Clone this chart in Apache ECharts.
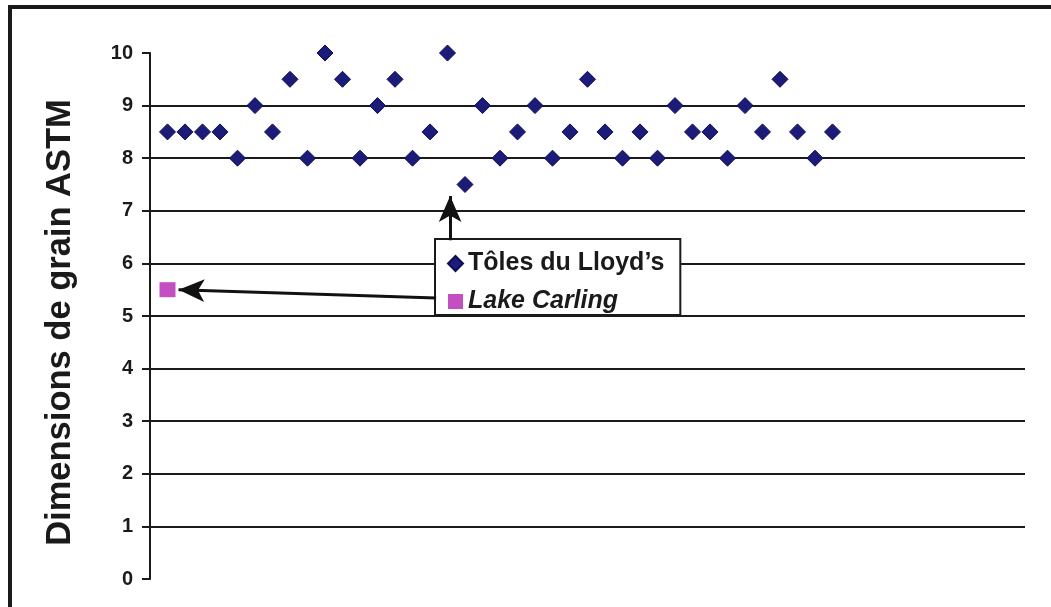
<!DOCTYPE html>
<html>
<head>
<meta charset="utf-8">
<script src="https://cdn.jsdelivr.net/npm/echarts@6/dist/echarts.min.js"></script>
<style>
html,body{margin:0;padding:0;background:#fff;}
#chart{width:1051px;height:607px;}
</style>
</head>
<body>
<div id="chart"></div>
<script>
// ---- data ----
const sampleIndex = [1,2,3,4,5,6,7,8,9,10,11,12,13,14,15,16,17,18,19,20,21,22,23,24,25,26,27,28,29,30,31,32,33,34,35,36,37,38,39];
const lloydsValues = [8.5,8.5,8.5,8.5,8,9,8.5,9.5,8,10,9.5,8,9,9.5,8,8.5,10,7.5,9,8,8.5,9,8,8.5,9.5,8.5,8,8.5,8,9,8.5,8.5,8,9,8.5,9.5,8.5,8,8.5];
const lakeCarlingIndex = [1];
const lakeCarlingValues = [5.5];
const seriesNames = ["Tôles du Lloyd’s", "Lake Carling"];
const yAxisTitle = "Dimensions de grain ASTM";
// annotation arrows (data coordinates): [start, end]
const arrowLloyds = [[17.15, 6.44], [17.15, 7.28]];
const arrowCarling = [[16.35, 5.34], [1.63, 5.50]];

const FONT = "'Liberation Sans', Arial, sans-serif";
const lloydsPts = sampleIndex.map((x, i) => [x, lloydsValues[i]]);
const carlingPts = lakeCarlingIndex.map((x, i) => [x, lakeCarlingValues[i]]);

const chart = echarts.init(document.getElementById('chart'), null, {renderer: 'canvas'});
chart.setOption({
  animation: false,
  backgroundColor: '#ffffff',
  grid: {left: 150, right: 26, top: 53, bottom: 28},
  xAxis: {
    type: 'value', min: 0, max: 50, show: false
  },
  yAxis: {
    type: 'value', min: 0, max: 10, interval: 1,
    name: yAxisTitle,
    nameLocation: 'middle',
    nameGap: 72,
    nameTextStyle: {fontFamily: FONT, fontSize: 34.5, fontWeight: 'bold', color: '#1a1a1a', padding: [0, 13, 0, 0]},
    axisLine: {show: true, lineStyle: {color: '#1a1a1a', width: 2}},
    axisTick: {show: true, length: 8, lineStyle: {color: '#1a1a1a', width: 2}},
    axisLabel: {fontFamily: FONT, fontSize: 20, fontWeight: 'bold', color: '#1a1a1a', margin: 17, padding: [3, 0, 0, 0]},
    splitLine: {show: true, showMinLine: false, showMaxLine: false, lineStyle: {color: '#1a1a1a', width: 2}}
  },
  legend: {
    orient: 'vertical',
    left: 435, top: 239,
    padding: [12, 16, 1, 12],
    itemGap: 13,
    itemWidth: 15, itemHeight: 15,
    backgroundColor: '#ffffff',
    borderColor: '#1a1a1a', borderWidth: 2,
    textStyle: {fontFamily: FONT, fontSize: 25, fontWeight: 'bold', color: '#1a1a1a'},
    data: [
      {name: seriesNames[0], icon: 'diamond'},
      {name: seriesNames[1], icon: 'rect', textStyle: {fontStyle: 'italic'}}
    ]
  },
  graphic: [{
    type: 'polyline', silent: true, z: 100,
    shape: {points: [[10, 607], [10, 7], [1051, 7]]},
    style: {stroke: '#1a1a1a', lineWidth: 4, fill: null}
  }],
  series: [
    {
      name: seriesNames[0], type: 'scatter', symbol: 'diamond', symbolSize: 16,
      itemStyle: {color: '#1c1c78', borderColor: '#0d0d55', borderWidth: 1, opacity: 1},
      data: lloydsPts,
      markLine: {
        silent: true, symbol: ['none', 'arrow'], symbolSize: [17, 26],
        label: {show: false},
        lineStyle: {color: '#111111', width: 3, type: 'solid', opacity: 1},
        emphasis: {disabled: true},
        data: [
          [{coord: arrowLloyds[0]}, {coord: arrowLloyds[1]}],
          [{coord: arrowCarling[0]}, {coord: arrowCarling[1]}]
        ]
      }
    },
    {
      name: seriesNames[1], type: 'scatter', symbol: 'rect', symbolSize: [16, 15],
      itemStyle: {color: '#c44fc2', opacity: 1},
      data: carlingPts
    }
  ]
});
</script>
</body>
</html>
